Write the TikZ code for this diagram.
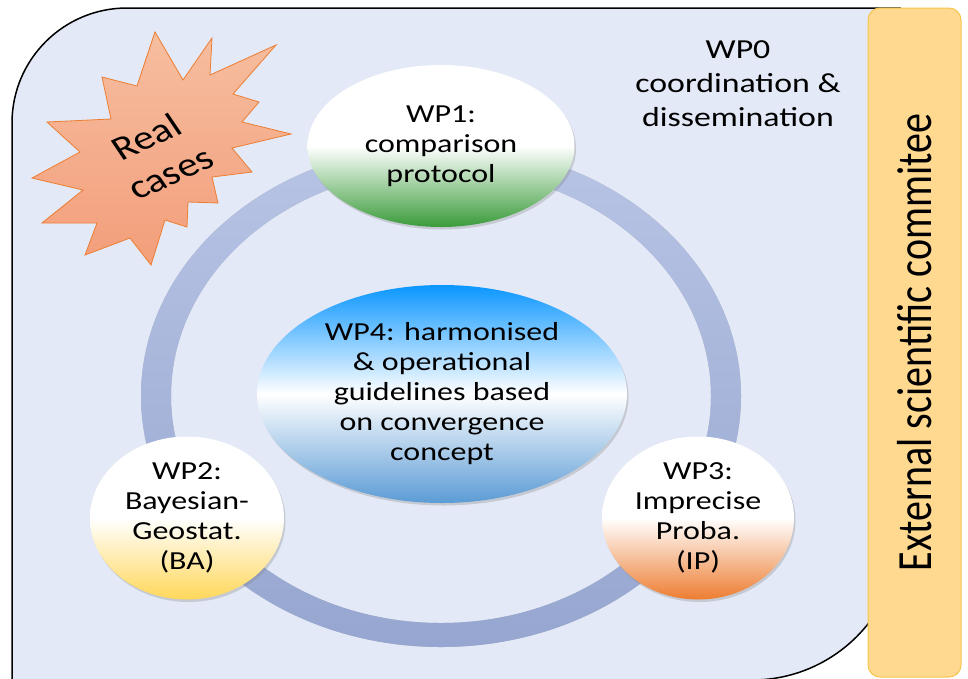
\documentclass[tikz,border=0pt]{standalone}
\usepackage{fontspec}
\setmainfont{Carlito}[FakeStretch=1.23]
\newfontfamily\narrowfont{Carlito}
\usetikzlibrary{shapes.geometric,shadows}

\definecolor{panelblue}{RGB}{227,233,246}
\definecolor{ringtop}{RGB}{184,196,229}
\definecolor{ringbot}{RGB}{150,166,208}
\definecolor{barfill}{RGB}{255,217,143}
\definecolor{barline}{RGB}{247,196,75}
\definecolor{starlight}{RGB}{246,190,160}
\definecolor{stardark}{RGB}{243,158,122}
\definecolor{starline}{RGB}{237,125,49}
\definecolor{wpgreen}{RGB}{58,155,58}
\definecolor{wpyellow}{RGB}{255,215,90}
\definecolor{wporange}{RGB}{237,125,49}
\definecolor{wpbluetop}{RGB}{10,150,255}
\definecolor{wpbluebot}{RGB}{91,155,213}

\begin{document}
\begin{tikzpicture}[x=1pt, y=-1pt,
    panel/.style={draw=black, line width=1.5pt, fill=panelblue},
    ring/.style={even odd rule, top color=ringtop, bottom color=ringbot},
    ringshadow/.style={even odd rule, fill=black, opacity=0.22, shift={(1,2.5)}},
    burst/.style={draw=starline, line width=0.8pt, top color=starlight, bottom color=stardark},
    wp/.style={ellipse, inner sep=0pt, align=center, font=\fontsize{26}{30}\selectfont,
               drop shadow={opacity=0.3, shadow xshift=1.5pt, shadow yshift=-2.5pt}},
    bar/.style={draw=barline, line width=1pt, fill=barfill, rounded corners=12pt,
                minimum width=669pt, minimum height=75.6pt, inner sep=0pt,
                font=\narrowfont\fontsize{40}{48}\selectfont}]
    \useasboundingbox (0,0) rectangle (968,678);
    \draw[panel] (12,680) -- (12,123) arc[start angle=180, end angle=270, radius=115]
        -- (900,8) -- (900,532) arc[start angle=0, end angle=90, radius=148] -- cycle;
    \coordinate (ringc) at (441,396);
    \path[ringshadow] (ringc) ellipse [x radius=300, y radius=251]
                      (ringc) ellipse [x radius=270, y radius=227];
    \path[ring] (ringc) ellipse [x radius=300, y radius=251]
                (ringc) ellipse [x radius=270, y radius=227];
    % real cases burst
    \draw[burst] (155,32) -- (183,80) -- (212,38) -- (210,75) -- (276,45) -- (233,94)
        -- (259,102) -- (242,122) -- (291,134) -- (232,148) -- (252,172) -- (212,177)
        -- (218,203) -- (188,202) -- (187,227) -- (165,220) -- (151,265) -- (130,238)
        -- (85,255) -- (97,223) -- (42,223) -- (83,190) -- (32,178) -- (80,152)
        -- (47,122) -- (111,119) -- (102,77) -- (137,86) -- cycle;
    \node[xscale=1.23, rotate=28.7, align=center, inner sep=0pt,
          font=\narrowfont\fontsize{34}{41}\selectfont]
        (realcases) at (158,155) {Real\\cases};
    \node[wp, minimum width=267pt, minimum height=162pt, top color=white,
          bottom color=wpgreen, middle color=white] (wpone) at (441,146)
          {WP1:\\comparison\\protocol};
    \node[wp, minimum width=370pt, minimum height=218pt, top color=wpbluetop,
          bottom color=wpbluebot, middle color=white] (wpfour) at (442,394)
          {WP4: harmonised\\\& operational\\guidelines based\\on convergence\\concept};
    \node[wp, minimum width=194pt, minimum height=163pt, top color=white,
          bottom color=wpyellow, middle color=white] (wptwo) at (187,518)
          {WP2:\\Bayesian-\\Geostat.\\(BA)};
    \node[wp, minimum width=192pt, minimum height=163pt, top color=white,
          bottom color=wporange, middle color=white] (wpthree) at (698,518)
          {WP3:\\Imprecise\\Proba.\\(IP)};
    \node[align=center, inner sep=0pt, font=\fontsize{27.5}{34}\selectfont]
        (wpzero) at (738,84) {WP0\\coordination \&\\dissemination};
    \node[bar, xscale=1.23, rotate=90] (committee) at (914.5,342.5)
        {External scientific commitee};
\end{tikzpicture}
\end{document}
